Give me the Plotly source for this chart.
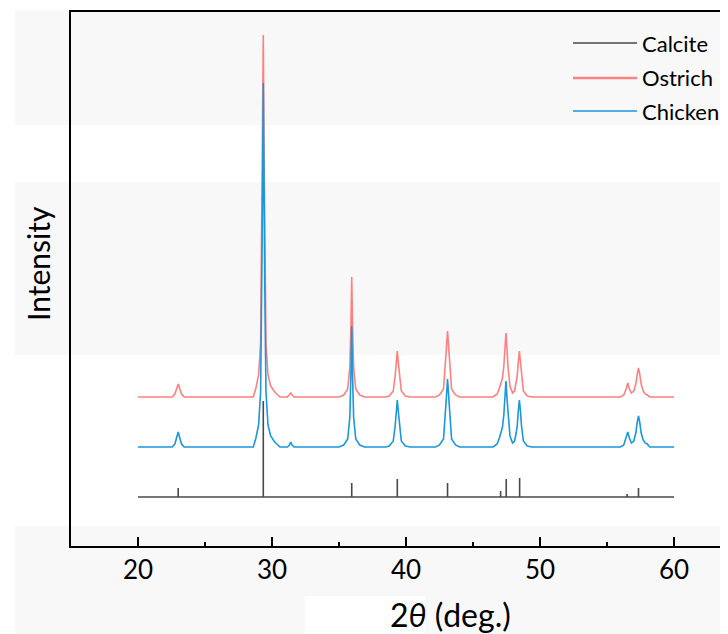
import plotly.graph_objects as go

# ---- data (y in arbitrary intensity units) ----
sample_x = [20.0, 22.55, 22.75, 22.88, 23.0, 23.12, 23.25, 23.45,
            28.6, 28.8, 29.0, 29.15, 29.24, 29.3, 29.35, 29.4, 29.46, 29.55, 29.7, 29.9, 30.2, 30.6,
            31.15, 31.3, 31.4, 31.5, 31.65,
            35.0, 35.35, 35.65, 35.81, 35.89, 35.95, 36.01, 36.09, 36.25, 36.55, 36.9,
            38.5, 38.75, 39.05, 39.19, 39.27, 39.35, 39.43, 39.51, 39.65, 39.95, 40.3,
            42.2, 42.5, 42.8, 42.94, 43.02, 43.1, 43.18, 43.26, 43.4, 43.7, 44.0,
            46.5, 46.8, 46.97, 47.08, 47.2, 47.3, 47.38, 47.46, 47.54, 47.62, 47.76, 47.95,
            48.1, 48.22, 48.3, 48.38, 48.46, 48.54, 48.62, 48.76, 49.05, 49.4,
            56.0, 56.25, 56.43, 56.55, 56.67, 56.82, 57.0, 57.15, 57.26, 57.35, 57.44, 57.55,
            57.7, 57.85, 58.0, 58.2, 60.0]

ostrich_y = [149, 149, 152, 157, 162, 157, 152, 149,
             149, 158, 171, 203, 312, 402, 511, 402, 312, 203, 171, 160, 154, 149,
             149, 151, 153, 151, 149,
             149, 151, 157, 179, 221, 269, 221, 179, 157, 151, 149,
             149, 150, 155, 170, 183, 195, 183, 170, 155, 150, 149,
             149, 151, 157, 179, 199, 215, 199, 179, 157, 151, 149,
             149, 152, 158, 163, 168, 180, 196, 213, 196, 178, 160, 153,
             155, 163, 170, 184, 195, 184, 170, 155, 150, 149,
             149, 151, 157, 163, 157, 153, 155, 162, 172, 178, 172, 162,
             155, 152, 151, 149, 149]

chicken_y = [99, 99, 102, 108, 114, 108, 102, 99,
             99, 108, 121, 154, 263, 354, 463, 354, 263, 154, 121, 110, 104, 99,
             99, 101, 104, 101, 99,
             99, 101, 107, 129, 172, 220, 172, 129, 107, 101, 99,
             99, 100, 105, 120, 134, 146, 134, 120, 105, 100, 99,
             99, 101, 107, 130, 150, 167, 150, 130, 107, 101, 99,
             99, 102, 108, 114, 119, 131, 147, 165, 147, 129, 110, 103,
             105, 113, 120, 135, 146, 135, 120, 105, 100, 99,
             99, 101, 108, 114, 108, 103, 105, 113, 124, 130, 124, 113,
             106, 103, 102, 99, 99]

calcite_pos = [23.0, 29.35, 35.95, 39.35, 43.1, 47.06, 47.48, 48.48, 56.5, 57.35]
calcite_top = [58, 145, 63, 67, 63, 55, 67, 68, 52, 58]
calcite_base = 49
calcite_start, calcite_end = 20.0, 60.0

series_names = ["Calcite", "Ostrich", "Chicken"]
x_ticks = [20, 30, 40, 50, 60]

assert len(sample_x) == len(ostrich_y) == len(chicken_y)

# ---- build calcite stick pattern ----
cx, cy = [calcite_start], [calcite_base]
for p, t in zip(calcite_pos, calcite_top):
    cx += [p, p, p]
    cy += [calcite_base, t, calcite_base]
cx.append(calcite_end)
cy.append(calcite_base)

col_calcite = "#4a4a4a"
col_ostrich = "#ff8080"
col_chicken = "#1b97da"

fig = go.Figure()
fig.add_trace(go.Scatter(x=sample_x, y=ostrich_y, mode="lines", name="Ostrich",
                         line=dict(color=col_ostrich, width=1.6), showlegend=False))
fig.add_trace(go.Scatter(x=sample_x, y=chicken_y, mode="lines", name="Chicken",
                         line=dict(color=col_chicken, width=1.6), showlegend=False))
fig.add_trace(go.Scatter(x=cx, y=cy, mode="lines", name="Calcite",
                         line=dict(color=col_calcite, width=1.6), showlegend=False))

# page is rendered with an 8px body margin -> compensate
OFF = 8
PAGE_W, PAGE_H = 728, 634
W, H = PAGE_W - OFF, PAGE_H - OFF
AX_L, AX_T, AX_B = 71, 12, 546          # page pixel positions of the plot frame
PW, PH = PAGE_W - AX_L, AX_B - AX_T


def px(x):
    return (x - AX_L) / PW


def py(y):
    return (AX_B - y) / PH


shapes = []
band = "#f8f8f8"
for y0, y1 in [(10, 125), (182, 355), (526, 660)]:
    shapes.append(dict(type="rect", xref="paper", yref="paper", x0=px(15), x1=px(760),
                       y0=py(y1), y1=py(y0), fillcolor=band, line=dict(width=0), layer="below"))
shapes.append(dict(type="rect", xref="paper", yref="paper", x0=px(305), x1=px(425),
                   y0=py(660), y1=py(596), fillcolor="white", line=dict(width=0), layer="below"))

annotations = []
leg_rows = [43, 78, 111]
leg_cols = [col_calcite, col_ostrich, col_chicken]
leg_w = [1.5, 2.5, 1.5]
for name, yy, c, w in zip(series_names, leg_rows, leg_cols, leg_w):
    shapes.append(dict(type="line", xref="paper", yref="paper", x0=px(573), x1=px(637),
                       y0=py(yy), y1=py(yy), line=dict(color=c, width=w)))
    annotations.append(dict(xref="paper", yref="paper", x=px(640), y=py(yy), text=name,
                            showarrow=False, xanchor="left", yanchor="middle",
                            font=dict(family="Lato", size=22, color="black")))

annotations.append(dict(xref="paper", yref="paper", x=px(38), y=py(264), text="Intensity",
                        showarrow=False, textangle=-90, xanchor="center", yanchor="middle",
                        font=dict(family="Lato", size=30, color="black")))
annotations.append(dict(xref="paper", yref="paper", x=px(450), y=py(614),
                        text="2<i>θ</i> (deg.)", showarrow=False, xanchor="center", yanchor="middle",
                        font=dict(family="Lato", size=32, color="black")))

fig.update_layout(
    width=W, height=H,
    margin=dict(l=AX_L - OFF, r=0, t=AX_T - OFF, b=PAGE_H - AX_B, pad=0),
    paper_bgcolor="white", plot_bgcolor="rgba(0,0,0,0)",
    shapes=shapes, annotations=annotations, showlegend=False,
)
fig.update_xaxes(range=[15, 15 + PW / 13.4], showgrid=False, zeroline=False,
                 showline=True, linecolor="black", linewidth=2, mirror=True,
                 ticks="inside", ticklen=9, tickwidth=2, tickcolor="black",
                 tickvals=x_ticks, ticktext=[str(v) for v in x_ticks],
                 tickfont=dict(family="Lato", size=26, color="black"),
                 minor=dict(ticks="inside", ticklen=4, tickwidth=2, tickcolor="black",
                            tickvals=[25, 35, 45, 55]))
fig.update_yaxes(range=[0, PH], showgrid=False, zeroline=False, showline=True,
                 linecolor="black", linewidth=2, ticks="", showticklabels=False)

fig.write_html("out.html")
